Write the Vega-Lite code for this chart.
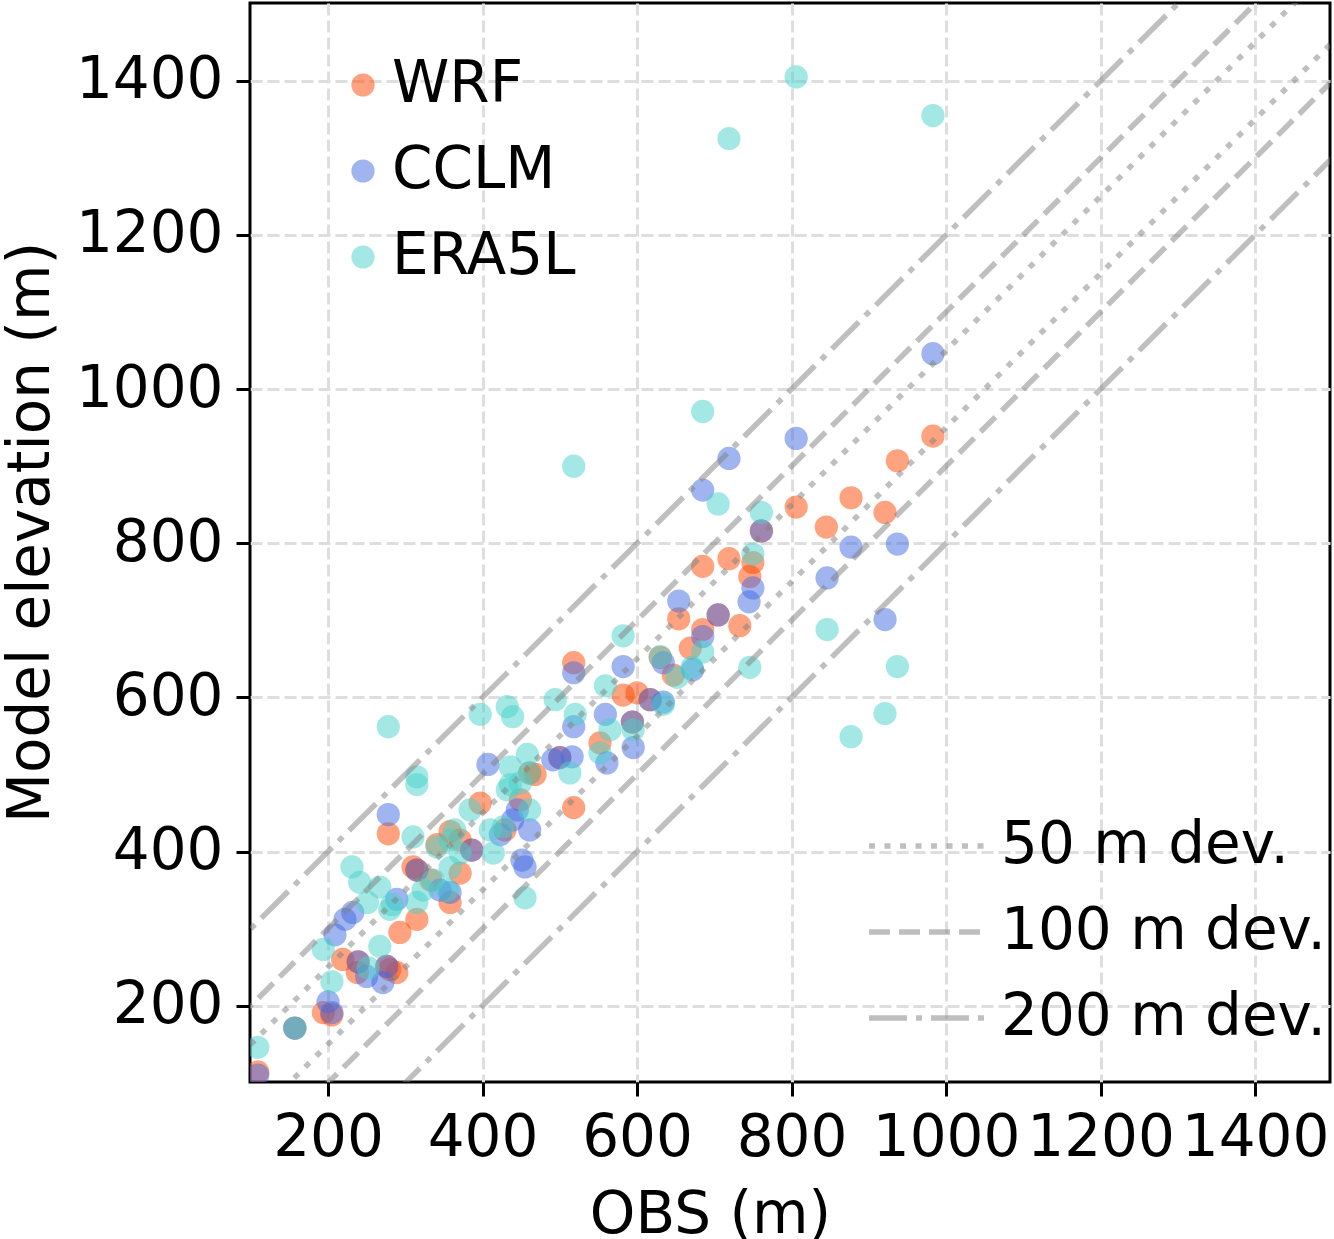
{
  "$schema": "https://vega.github.io/schema/vega-lite/v6.json",
  "width": 1080,
  "height": 1079,
  "autosize": "none",
  "padding": {"left": 250, "top": 3, "right": 4, "bottom": 157},
  "background": "white",
  "datasets": {
    "pts": [
      {"model":"WRF","obs":983,"elev":939},{"model":"WRF","obs":937,"elev":907},{"model":"WRF","obs":877,"elev":859},{"model":"WRF","obs":921,"elev":840},{"model":"WRF","obs":806,"elev":847},{"model":"WRF","obs":845,"elev":821},{"model":"WRF","obs":761,"elev":816},{"model":"WRF","obs":750,"elev":775},{"model":"WRF","obs":746,"elev":757},{"model":"WRF","obs":719,"elev":780},{"model":"WRF","obs":685,"elev":770},{"model":"WRF","obs":733,"elev":693},{"model":"WRF","obs":705,"elev":707},{"model":"WRF","obs":685,"elev":688},{"model":"WRF","obs":669,"elev":664},{"model":"WRF","obs":654,"elev":702},{"model":"WRF","obs":630,"elev":652},{"model":"WRF","obs":647,"elev":629},{"model":"WRF","obs":518,"elev":645},{"model":"WRF","obs":582,"elev":603},{"model":"WRF","obs":600,"elev":606},{"model":"WRF","obs":617,"elev":597},{"model":"WRF","obs":594,"elev":568},{"model":"WRF","obs":552,"elev":541},{"model":"WRF","obs":500,"elev":522},{"model":"WRF","obs":461,"elev":502},{"model":"WRF","obs":518,"elev":457},{"model":"WRF","obs":397,"elev":463},{"model":"WRF","obs":278,"elev":423},{"model":"WRF","obs":358,"elev":426},{"model":"WRF","obs":371,"elev":415},{"model":"WRF","obs":386,"elev":402},{"model":"WRF","obs":310,"elev":380},{"model":"WRF","obs":371,"elev":372},{"model":"WRF","obs":358,"elev":334},{"model":"WRF","obs":341,"elev":409},{"model":"WRF","obs":315,"elev":376},{"model":"WRF","obs":315,"elev":312},{"model":"WRF","obs":293,"elev":295},{"model":"WRF","obs":280,"elev":247},{"model":"WRF","obs":289,"elev":243},{"model":"WRF","obs":239,"elev":257},{"model":"WRF","obs":219,"elev":260},{"model":"WRF","obs":238,"elev":243},{"model":"WRF","obs":194,"elev":191},{"model":"WRF","obs":205,"elev":188},{"model":"WRF","obs":157,"elev":171},{"model":"WRF","obs":109,"elev":114},{"model":"WRF","obs":276,"elev":251},{"model":"WRF","obs":468,"elev":500},{"model":"WRF","obs":449,"elev":467},{"model":"WRF","obs":429,"elev":428},{"model":"WRF","obs":333,"elev":363},
      {"model":"CCLM","obs":983,"elev":1046},{"model":"CCLM","obs":937,"elev":799},{"model":"CCLM","obs":877,"elev":795},{"model":"CCLM","obs":921,"elev":701},{"model":"CCLM","obs":846,"elev":755},{"model":"CCLM","obs":806,"elev":936},{"model":"CCLM","obs":761,"elev":816},{"model":"CCLM","obs":750,"elev":742},{"model":"CCLM","obs":745,"elev":724},{"model":"CCLM","obs":719,"elev":910},{"model":"CCLM","obs":705,"elev":707},{"model":"CCLM","obs":685,"elev":869},{"model":"CCLM","obs":685,"elev":679},{"model":"CCLM","obs":672,"elev":636},{"model":"CCLM","obs":654,"elev":725},{"model":"CCLM","obs":634,"elev":645},{"model":"CCLM","obs":634,"elev":594},{"model":"CCLM","obs":617,"elev":597},{"model":"CCLM","obs":582,"elev":640},{"model":"CCLM","obs":518,"elev":632},{"model":"CCLM","obs":518,"elev":562},{"model":"CCLM","obs":559,"elev":578},{"model":"CCLM","obs":594,"elev":568},{"model":"CCLM","obs":595,"elev":535},{"model":"CCLM","obs":561,"elev":515},{"model":"CCLM","obs":516,"elev":523},{"model":"CCLM","obs":500,"elev":522},{"model":"CCLM","obs":491,"elev":519},{"model":"CCLM","obs":407,"elev":513},{"model":"CCLM","obs":278,"elev":448},{"model":"CCLM","obs":455,"elev":380},{"model":"CCLM","obs":451,"elev":389},{"model":"CCLM","obs":439,"elev":441},{"model":"CCLM","obs":461,"elev":428},{"model":"CCLM","obs":423,"elev":422},{"model":"CCLM","obs":386,"elev":402},{"model":"CCLM","obs":315,"elev":376},{"model":"CCLM","obs":345,"elev":350},{"model":"CCLM","obs":289,"elev":338},{"model":"CCLM","obs":232,"elev":321},{"model":"CCLM","obs":222,"elev":312},{"model":"CCLM","obs":209,"elev":292},{"model":"CCLM","obs":276,"elev":251},{"model":"CCLM","obs":239,"elev":257},{"model":"CCLM","obs":250,"elev":238},{"model":"CCLM","obs":271,"elev":230},{"model":"CCLM","obs":200,"elev":205},{"model":"CCLM","obs":205,"elev":191},{"model":"CCLM","obs":157,"elev":171},{"model":"CCLM","obs":109,"elev":110},{"model":"CCLM","obs":445,"elev":454},{"model":"CCLM","obs":358,"elev":347},
      {"model":"ERA5L","obs":983,"elev":1355},{"model":"ERA5L","obs":937,"elev":640},{"model":"ERA5L","obs":921,"elev":579},{"model":"ERA5L","obs":877,"elev":549},{"model":"ERA5L","obs":846,"elev":688},{"model":"ERA5L","obs":806,"elev":1405},{"model":"ERA5L","obs":761,"elev":840},{"model":"ERA5L","obs":750,"elev":786},{"model":"ERA5L","obs":746,"elev":639},{"model":"ERA5L","obs":719,"elev":1325},{"model":"ERA5L","obs":705,"elev":851},{"model":"ERA5L","obs":685,"elev":971},{"model":"ERA5L","obs":685,"elev":659},{"model":"ERA5L","obs":671,"elev":639},{"model":"ERA5L","obs":652,"elev":626},{"model":"ERA5L","obs":630,"elev":653},{"model":"ERA5L","obs":634,"elev":591},{"model":"ERA5L","obs":582,"elev":680},{"model":"ERA5L","obs":559,"elev":615},{"model":"ERA5L","obs":520,"elev":578},{"model":"ERA5L","obs":595,"elev":558},{"model":"ERA5L","obs":565,"elev":558},{"model":"ERA5L","obs":552,"elev":528},{"model":"ERA5L","obs":513,"elev":502},{"model":"ERA5L","obs":458,"elev":526},{"model":"ERA5L","obs":461,"elev":502},{"model":"ERA5L","obs":436,"elev":487},{"model":"ERA5L","obs":494,"elev":597},{"model":"ERA5L","obs":432,"elev":588},{"model":"ERA5L","obs":439,"elev":575},{"model":"ERA5L","obs":518,"elev":900},{"model":"ERA5L","obs":278,"elev":562},{"model":"ERA5L","obs":315,"elev":497},{"model":"ERA5L","obs":315,"elev":487},{"model":"ERA5L","obs":397,"elev":578},{"model":"ERA5L","obs":364,"elev":428},{"model":"ERA5L","obs":310,"elev":419},{"model":"ERA5L","obs":323,"elev":350},{"model":"ERA5L","obs":358,"elev":379},{"model":"ERA5L","obs":455,"elev":340},{"model":"ERA5L","obs":231,"elev":380},{"model":"ERA5L","obs":241,"elev":360},{"model":"ERA5L","obs":267,"elev":354},{"model":"ERA5L","obs":283,"elev":331},{"model":"ERA5L","obs":251,"elev":334},{"model":"ERA5L","obs":280,"elev":325},{"model":"ERA5L","obs":315,"elev":334},{"model":"ERA5L","obs":194,"elev":273},{"model":"ERA5L","obs":205,"elev":231},{"model":"ERA5L","obs":109,"elev":146},{"model":"ERA5L","obs":157,"elev":171},{"model":"ERA5L","obs":252,"elev":249},{"model":"ERA5L","obs":267,"elev":277},{"model":"ERA5L","obs":436,"elev":510},{"model":"ERA5L","obs":432,"elev":480},{"model":"ERA5L","obs":449,"elev":489},{"model":"ERA5L","obs":461,"elev":454},{"model":"ERA5L","obs":410,"elev":428},{"model":"ERA5L","obs":427,"elev":432},{"model":"ERA5L","obs":414,"elev":398},{"model":"ERA5L","obs":384,"elev":454},{"model":"ERA5L","obs":341,"elev":406},{"model":"ERA5L","obs":358,"elev":415},{"model":"ERA5L","obs":371,"elev":398},{"model":"ERA5L","obs":336,"elev":363},{"model":"ERA5L","obs":354,"elev":350}
    ],
    "dev": [
      {"dev":"50 m dev.","line":"p50","obs":0,"elev":50},{"dev":"50 m dev.","line":"p50","obs":1600,"elev":1650},
      {"dev":"50 m dev.","line":"m50","obs":0,"elev":-50},{"dev":"50 m dev.","line":"m50","obs":1600,"elev":1550},
      {"dev":"100 m dev.","line":"p100","obs":0,"elev":100},{"dev":"100 m dev.","line":"p100","obs":1600,"elev":1700},
      {"dev":"100 m dev.","line":"m100","obs":0,"elev":-100},{"dev":"100 m dev.","line":"m100","obs":1600,"elev":1500},
      {"dev":"200 m dev.","line":"p200","obs":0,"elev":200},{"dev":"200 m dev.","line":"p200","obs":1600,"elev":1800},
      {"dev":"200 m dev.","line":"m200","obs":0,"elev":-200},{"dev":"200 m dev.","line":"m200","obs":1600,"elev":1400}
    ]
  },
  "layer": [
    {
      "data": {"name": "pts"},
      "mark": {"type": "point", "filled": true, "opacity": 0.5, "size": 540, "strokeWidth": 0, "clip": true},
      "encoding": {
        "x": {"field": "obs", "type": "quantitative", "scale": {"domain": [99, 1497], "nice": false, "zero": false},
              "axis": {"title": "OBS (m)", "values": [200,400,600,800,1000,1200,1400], "format": "d"}},
        "y": {"field": "elev", "type": "quantitative", "scale": {"domain": [101, 1501], "nice": false, "zero": false},
              "axis": {"title": "Model elevation  (m)", "values": [200,400,600,800,1000,1200,1400], "format": "d"}},
        "color": {"field": "model", "type": "nominal",
                  "scale": {"domain": ["WRF","CCLM","ERA5L"], "range": ["#ff4500","#4169e1","#48d1cc"]},
                  "legend": {"title": null, "orient": "none", "legendX": 84, "legendY": 53, "labelFontSize": 58, "labelColor": "black", "labelLimit": 0,
                             "symbolSize": 540, "symbolOpacity": 0.5, "symbolStrokeWidth": 0, "symbolType": "circle",
                             "labelOffset": 0, "rowPadding": 28, "padding": 0}}
      }
    },
    {
      "data": {"name": "dev"},
      "mark": {"type": "line", "stroke": "gray", "opacity": 0.5, "strokeWidth": 5.5, "clip": true},
      "encoding": {
        "x": {"field": "obs", "type": "quantitative", "axis": {"title": "OBS (m)", "values": [200,400,600,800,1000,1200,1400], "format": "d"}},
        "y": {"field": "elev", "type": "quantitative", "axis": {"title": "Model elevation  (m)", "values": [200,400,600,800,1000,1200,1400], "format": "d"}},
        "detail": {"field": "line"},
        "strokeDash": {"field": "dev", "type": "nominal",
                       "scale": {"domain": ["50 m dev.","100 m dev.","200 m dev."], "range": [[6,9.5],[21,9],[38,9,6,9]]},
                       "legend": {"title": null, "orient": "none", "legendX": 616, "legendY": 814, "labelFontSize": 58, "labelColor": "black", "labelLimit": 0,
                                  "symbolSize": 13689, "symbolStrokeColor": "gray", "symbolOpacity": 0.5, "symbolStrokeWidth": 5.5, "symbolType": "stroke",
                                  "clipHeight": 58, "labelOffset": 12, "rowPadding": 28, "padding": 0}}
      }
    }
  ],
  "config": {
    "font": "DejaVu Sans",
    "view": {"stroke": "black", "strokeWidth": 3},
    "axis": {"domain": false, "grid": true, "gridColor": "#dedede", "gridDash": [12,5], "gridWidth": 3,
             "ticks": true, "tickColor": "black", "tickWidth": 3, "tickSize": 14,
             "labelFontSize": 58, "labelColor": "black", "labelPadding": 13, "labelFlush": false, "labelOverlap": false,
             "titleFontSize": 58, "titleFontWeight": "normal", "titleColor": "black"},
    "axisX": {"titleX": 460, "titleY": 150, "titleBaseline": "alphabetic"},
    "axisY": {"titleX": -202, "titleY": 529, "titleBaseline": "alphabetic"}
  }
}
